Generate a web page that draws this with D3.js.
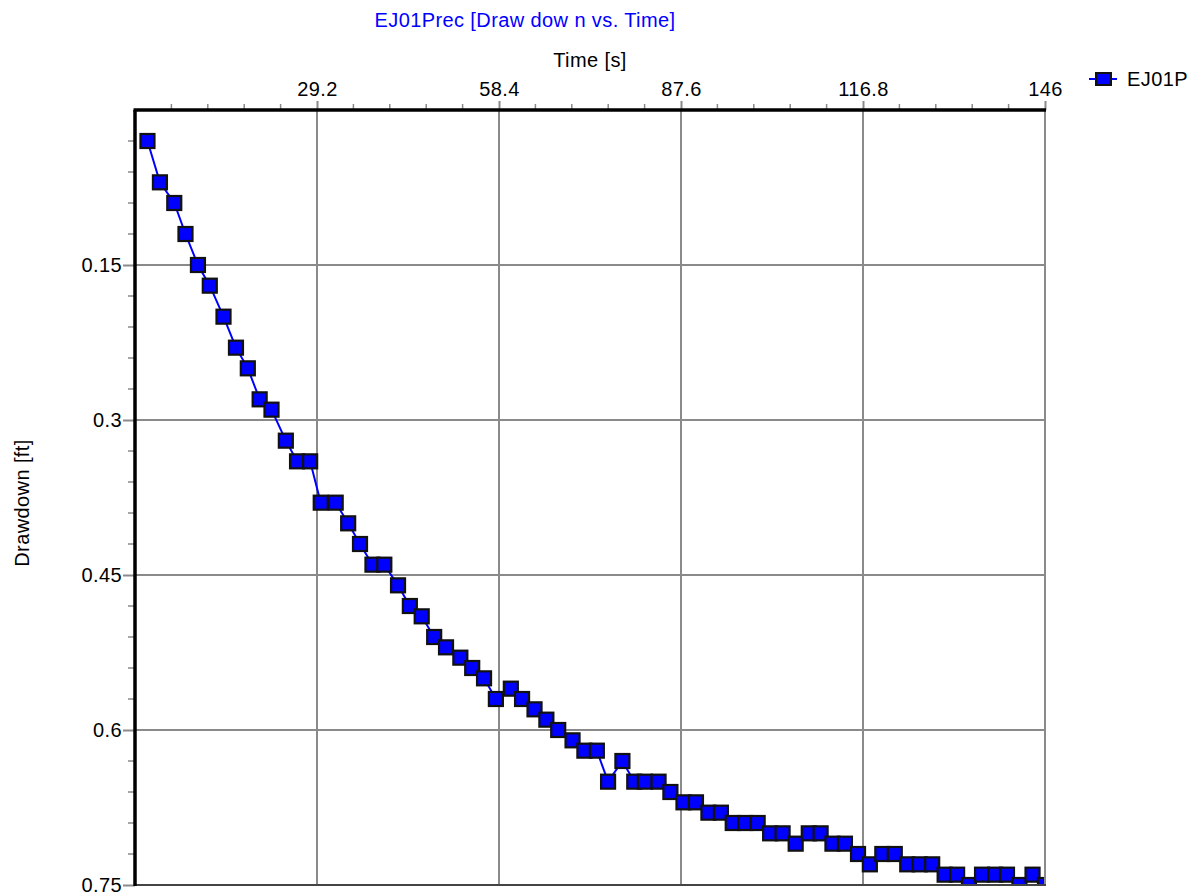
<!DOCTYPE html>
<html>
<head>
<meta charset="utf-8">
<script src="https://cdn.jsdelivr.net/npm/d3@7"></script>
<style>
  body { margin: 0; background: #fff; }
  svg { display: block; font-family: "Liberation Sans", Arial, sans-serif; }
</style>
</head>
<body>
<svg id="chart" width="1199" height="896"></svg>
<script>
// ---- data ----
const timeS = [2.0, 4.0, 6.3, 8.1, 10.1, 12.0, 14.2, 16.2, 18.1, 20.0, 21.9, 24.2, 26.0, 28.1, 29.8,
  32.2, 34.2, 36.1, 38.1, 40.0, 42.2, 44.1, 46.0, 48.0, 49.9, 52.2, 54.1, 56.0, 57.9, 60.3,
  62.1, 64.1, 66.0, 67.9, 70.2, 72.1, 74.1, 75.9, 78.2, 80.1, 81.8, 84.0, 85.9, 88.0, 90.0,
  92.0, 94.0, 95.9, 97.9, 99.9, 101.9, 103.9, 106.0, 108.1, 110.0, 111.9, 113.9, 116.0, 117.9,
  119.9, 121.9, 123.9, 125.9, 127.9, 129.9, 131.9, 133.8, 135.9, 138.0, 139.9, 141.9, 144.0, 146.0];
const drawdownFt = [0.03, 0.07, 0.09, 0.12, 0.15, 0.17, 0.20, 0.23, 0.25, 0.28, 0.29, 0.32, 0.34, 0.34, 0.38,
  0.38, 0.40, 0.42, 0.44, 0.44, 0.46, 0.48, 0.49, 0.51, 0.52, 0.53, 0.54, 0.55, 0.57, 0.56,
  0.57, 0.58, 0.59, 0.60, 0.61, 0.62, 0.62, 0.65, 0.63, 0.65, 0.65, 0.65, 0.66, 0.67, 0.67,
  0.68, 0.68, 0.69, 0.69, 0.69, 0.70, 0.70, 0.71, 0.70, 0.70, 0.71, 0.71, 0.72, 0.73,
  0.72, 0.72, 0.73, 0.73, 0.73, 0.74, 0.74, 0.75, 0.74, 0.74, 0.74, 0.75, 0.74, 0.75];
const xTickValues = [29.2, 58.4, 87.6, 116.8, 146];
const xTickLabels = ["29.2", "58.4", "87.6", "116.8", "146"];
const yTickValues = [0.15, 0.3, 0.45, 0.6, 0.75];
const yTickLabels = ["0.15", "0.3", "0.45", "0.6", "0.75"];
const seriesName = "EJ01P";
const titleText = "EJ01Prec [Draw dow n vs. Time]";
const xTitle = "Time [s]";
const yTitle = "Drawdown [ft]";

// ---- layout ----
const L = 135, T = 110, R = 1045, B = 885;
const svg = d3.select("#chart");
const x = d3.scaleLinear().domain([0, 146]).range([L, R]);
const y = d3.scaleLinear().domain([0, 0.75]).range([T, B]);
const data = timeS.map((t, i) => ({ t, d: drawdownFt[i] }));
const FS = 20, LS = 0.4;
const gridCol = "#8a8a8a";
const FF = "Liberation Sans, Arial, sans-serif";

// gridlines
svg.append("g").selectAll("line").data(xTickValues).join("line")
  .attr("x1", d => x(d)).attr("x2", d => x(d)).attr("y1", T).attr("y2", B)
  .attr("stroke", gridCol).attr("stroke-width", 2);
svg.append("g").selectAll("line").data(yTickValues).join("line")
  .attr("x1", L).attr("x2", R).attr("y1", d => y(d)).attr("y2", d => y(d))
  .attr("stroke", gridCol).attr("stroke-width", 2);

// top axis
const minorX = d3.range(1, 25).map(i => i * 5.84).filter(v => !xTickValues.some(m => Math.abs(m - v) < 1e-6));
const topAxis = svg.append("g").attr("transform", `translate(0,${T})`)
  .call(d3.axisTop(x).tickValues(xTickValues).tickSize(9).tickPadding(5)
    .tickFormat((d, i) => xTickLabels[i]));
topAxis.select(".domain").remove();
topAxis.selectAll(".tick line").attr("stroke", gridCol).attr("stroke-width", 2);
topAxis.selectAll(".tick text").attr("font-size", FS).attr("letter-spacing", LS)
  .attr("fill", "#000").attr("font-family", FF);
svg.append("g").selectAll("line").data(minorX).join("line")
  .attr("x1", d => x(d)).attr("x2", d => x(d)).attr("y1", T - 6).attr("y2", T)
  .attr("stroke", gridCol).attr("stroke-width", 1.5);

// left axis
const minorY = d3.range(1, 25).map(i => i * 0.03).filter(v => !yTickValues.some(m => Math.abs(m - v) < 1e-6));
const leftAxis = svg.append("g").attr("transform", `translate(${L},0)`)
  .call(d3.axisLeft(y).tickValues(yTickValues).tickSize(12).tickPadding(1)
    .tickFormat((d, i) => yTickLabels[i]));
leftAxis.select(".domain").remove();
leftAxis.selectAll(".tick line").attr("stroke", gridCol).attr("stroke-width", 2);
leftAxis.selectAll(".tick text").attr("font-size", FS).attr("letter-spacing", LS)
  .attr("fill", "#000").attr("font-family", FF);
svg.append("g").selectAll("line").data(minorY).join("line")
  .attr("x1", L - 7).attr("x2", L).attr("y1", d => y(d)).attr("y2", d => y(d))
  .attr("stroke", gridCol).attr("stroke-width", 1.5);

// clip
svg.append("clipPath").attr("id", "plotclip").append("rect")
  .attr("x", L).attr("y", T).attr("width", R - L).attr("height", B - T);

// series
const plot = svg.append("g").attr("clip-path", "url(#plotclip)");
plot.append("path").datum(data)
  .attr("d", d3.line().x(d => x(d.t)).y(d => y(d.d)))
  .attr("fill", "none").attr("stroke", "#0000ff").attr("stroke-width", 2);
const MS = 14;
plot.selectAll("rect.pt").data(data).join("rect").attr("class", "pt")
  .attr("x", d => x(d.t) - MS / 2).attr("y", d => y(d.d) - MS / 2)
  .attr("width", MS).attr("height", MS)
  .attr("fill", "#0000ff").attr("stroke", "#111").attr("stroke-width", 2.2);

// frame
svg.append("line").attr("x1", R).attr("x2", R).attr("y1", T).attr("y2", B + 1)
  .attr("stroke", gridCol).attr("stroke-width", 2);
svg.append("line").attr("x1", L).attr("x2", R + 1).attr("y1", B).attr("y2", B)
  .attr("stroke", "#444").attr("stroke-width", 2);
svg.append("line").attr("x1", L - 1.5).attr("x2", R + 1).attr("y1", T).attr("y2", T)
  .attr("stroke", "#000").attr("stroke-width", 3.5);
svg.append("line").attr("x1", L).attr("x2", L).attr("y1", T).attr("y2", B + 1)
  .attr("stroke", "#000").attr("stroke-width", 3.5);

// titles
svg.append("text").attr("x", 525).attr("y", 27).attr("text-anchor", "middle")
  .attr("font-size", FS).attr("letter-spacing", LS).attr("fill", "#0000ff").text(titleText);
svg.append("text").attr("x", 590).attr("y", 67).attr("text-anchor", "middle")
  .attr("font-size", FS).attr("letter-spacing", LS).attr("fill", "#000").text(xTitle);
svg.append("text").attr("transform", "translate(29,503) rotate(-90)").attr("text-anchor", "middle")
  .attr("font-size", FS).attr("letter-spacing", LS).attr("fill", "#000").text(yTitle);

// legend
const lg = svg.append("g").attr("transform", "translate(1089,79)");
lg.append("line").attr("x1", 0).attr("x2", 28).attr("y1", 0).attr("y2", 0)
  .attr("stroke", "#0000ff").attr("stroke-width", 2);
lg.append("rect").attr("x", 7).attr("y", -6).attr("width", 15).attr("height", 12)
  .attr("fill", "#0000ff").attr("stroke", "#111").attr("stroke-width", 2);
lg.append("text").attr("x", 38).attr("y", 7).attr("font-size", FS).attr("letter-spacing", LS)
  .attr("fill", "#000").text(seriesName);
</script>
</body>
</html>
